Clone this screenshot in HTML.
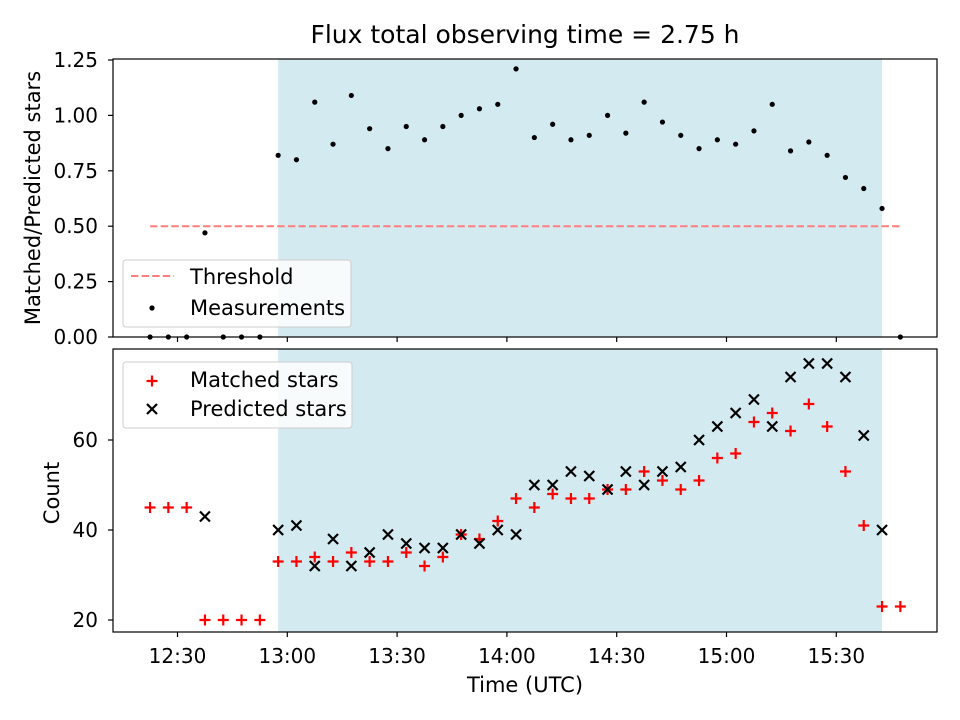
<!DOCTYPE html>
<html><head><meta charset="utf-8"><style>
body{margin:0;background:#fff}
svg{display:block;font-family:"DejaVu Sans","Liberation Sans",sans-serif}
</style></head><body>
<svg id="chart" width="960" height="720" viewBox="0 0 960 720"></svg>
<script>
const times = [22.5,27.5,32.5,37.5,42.5,47.5,52.5,57.5,62.5,67.5,72.5,77.5,82.5,87.5,92.5,97.5,102.5,107.5,112.5,117.5,122.5,127.5,132.5,137.5,142.5,147.5,152.5,157.5,162.5,167.5,172.5,177.5,182.5,187.5,192.5,197.5,202.5,207.5,212.5,217.5,222.5,227.5];
const ratio = [0,0,0,0.47,0,0,0,0.82,0.80,1.06,0.87,1.09,0.94,0.85,0.95,0.89,0.95,1.00,1.03,1.05,1.21,0.90,0.96,0.89,0.91,1.00,0.92,1.06,0.97,0.91,0.85,0.89,0.87,0.93,1.05,0.84,0.88,0.82,0.72,0.67,0.58,0];
const matched = [45,45,45,20,20,20,20,33,33,34,33,35,33,33,35,32,34,39,38,42,47,45,48,47,47,49,49,53,51,49,51,56,57,64,66,62,68,63,53,41,23,23];
const predicted = [null,null,null,43,null,null,null,40,41,32,38,32,35,39,37,36,36,39,37,40,39,50,50,53,52,49,53,50,53,54,60,63,66,69,63,74,77,77,74,61,40,null];
const xTicks = [30,60,90,120,150,180,210];
const xTickLabels = ["12:30","13:00","13:30","14:00","14:30","15:00","15:30"];
const topTicks = [0,0.25,0.5,0.75,1.0,1.25];
const topTickLabels = ["0.00","0.25","0.50","0.75","1.00","1.25"];
const botTicks = [20,40,60];
const threshold = 0.5;
const shadeStart = 57.5, shadeEnd = 222.5;

const NS="http://www.w3.org/2000/svg";
const svg=document.getElementById('chart');
function mk(tag,attrs,parent){const e=document.createElementNS(NS,tag);for(const k in attrs)e.setAttribute(k,attrs[k]);(parent||svg).appendChild(e);return e;}
const L=113,R=937,T1=59,B1=337,T2=349,B2=632;
const xs=m=>177.5+(m-30)*3.66;
const y1=v=>337-v*221.6;
const y2=v=>620-(v-20)*4.5;

let s=mk('rect',{x:xs(shadeStart),y:T1,width:xs(shadeEnd)-xs(shadeStart),height:B1-T1,fill:'#d4eaf1'});


s=mk('rect',{x:xs(shadeStart),y:T2,width:xs(shadeEnd)-xs(shadeStart),height:B2-T2,fill:'#d4eaf1'});



let th=mk('line',{x1:xs(times[0]),x2:xs(times[times.length-1]),y1:y1(threshold),y2:y1(threshold),stroke:'#ff7f7f','stroke-width':2,'stroke-dasharray':'7.4,3.2'});



ratio.forEach((v,i)=>{if(v===null)return;
 const c=mk('circle',{cx:xs(times[i]),cy:y1(v),r:2.6,fill:'#000'});
 
 
});
matched.forEach((v,i)=>{if(v===null)return;const x=xs(times[i]),y=y2(v);
 const p=mk('path',{d:`M${x-5.5},${y}H${x+5.5}M${x},${y-5.5}V${y+5.5}`,stroke:'#f00','stroke-width':2.2});
 
 
});
predicted.forEach((v,i)=>{if(v===null)return;const x=xs(times[i]),y=y2(v);
 const p=mk('path',{d:`M${x-5},${y-5}L${x+5},${y+5}M${x-5},${y+5}L${x+5},${y-5}`,stroke:'#000','stroke-width':2.2});
 
 
});

let f=mk('rect',{x:L,y:T1,width:R-L,height:B1-T1,fill:'none',stroke:'#000','stroke-width':1.2});


f=mk('rect',{x:L,y:T2,width:R-L,height:B2-T2,fill:'none',stroke:'#000','stroke-width':1.2});



xTicks.forEach((m,i)=>{const x=xs(m);
 let t=mk('line',{x1:x,x2:x,y1:B1,y2:B1+5,stroke:'#000','stroke-width':1.2});
 
 
 t=mk('line',{x1:x,x2:x,y1:B2,y2:B2+5,stroke:'#000','stroke-width':1.2});
 
 
 const tx=mk('text',{x:x,y:B2+31,'text-anchor':'middle','font-size':20});tx.textContent=xTickLabels[i];
 
 
});
topTicks.forEach((v,i)=>{const y=y1(v);
 const t=mk('line',{x1:L-5,x2:L,y1:y,y2:y,stroke:'#000','stroke-width':1.2});
 
 
 const tx=mk('text',{x:L-15,y:y+7,'text-anchor':'end','font-size':20});tx.textContent=topTickLabels[i];
 
 
});
botTicks.forEach(v=>{const y=y2(v);
 const t=mk('line',{x1:L-5,x2:L,y1:y,y2:y,stroke:'#000','stroke-width':1.2});
 
 
 const tx=mk('text',{x:L-15,y:y+7,'text-anchor':'end','font-size':20});tx.textContent=v;
 
 
});
</script>
<svg width="960" height="720" style="position:absolute;left:0;top:0" font-family="DejaVu Sans, Liberation Sans, sans-serif">
<text x="525" y="43" text-anchor="middle" font-size="25">Flux total observing time = 2.75 h</text>
<text transform="translate(40,198) rotate(-90)" text-anchor="middle" font-size="21">Matched/Predicted stars</text>
<text transform="translate(59,493) rotate(-90)" text-anchor="middle" font-size="21">Count</text>
<text x="525" y="692" text-anchor="middle" font-size="21">Time (UTC)</text>
<g>
<rect x="123" y="260" width="228" height="67" rx="3" fill="#fff" fill-opacity="0.8" stroke="#ccc"/>
<line x1="131" x2="174" y1="276" y2="276" stroke="#ff7f7f" stroke-width="2" stroke-dasharray="7.4,3.2"/>
<text x="190" y="284" font-size="21">Threshold</text>
<circle cx="152" cy="308" r="2.6" fill="#000"/>
<text x="190" y="315" font-size="21">Measurements</text>
</g>
<g>
<rect x="123" y="362" width="229" height="66" rx="3" fill="#fff" fill-opacity="0.8" stroke="#ccc"/>
<path d="M146.5,381H157.5M152,375.5V386.5" stroke="#f00" stroke-width="2.2"/>
<text x="190" y="387" font-size="21">Matched stars</text>
<path d="M147,404L157,414M147,414L157,404" stroke="#000" stroke-width="2.2"/>
<text x="190" y="416" font-size="21">Predicted stars</text>
</g>
</svg>
</body></html>
